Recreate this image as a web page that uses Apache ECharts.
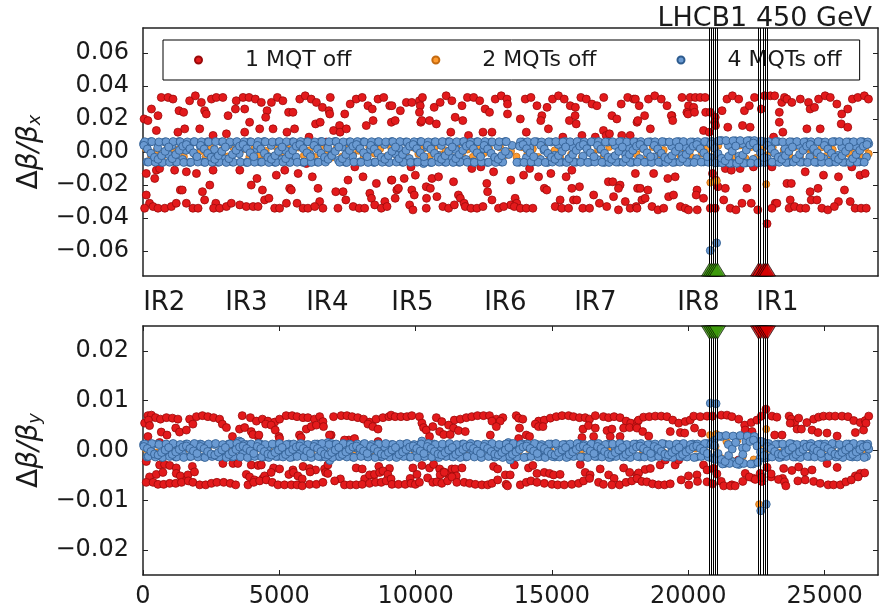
<!DOCTYPE html>
<html>
<head>
<meta charset="utf-8">
<script src="https://cdn.jsdelivr.net/npm/echarts@6/dist/echarts.min.js"></script>
<style>
html, body { margin: 0; padding: 0; background: #fff; }
#chart { width: 879px; height: 613px; }
</style>
</head>
<body>
<div id="chart"></div>
<script>
// longitudinal position s [m] and beta beat
// top panel: horizontal (dbx), bottom panel: vertical (dby)

var mqt1_bx = [
  [670,.033],[920,.033],[1100,.032],[1710,.031],[1920,.034],[2140,.030],[2510,.032],[2690,.033],[2930,.033],[3420,.031],[3670,.033],[3890,.033],[4120,.032],[4340,.030],[4710,.030],[4930,.033],[5130,.031],[5750,.032],[5950,.034],[6170,.032],[6360,.030],[6580,.027],[6870,.033],[7400,.023],[7600,.029],[7820,.032],[8040,.033],[8250,.028],[8410,.026],[8620,.032],[8830,.033],[9050,.028],
  [310,.026],[550,.022],[1320,.025],[1490,.024],[2260,.025],[2320,.023],[3120,.022],[3390,.026],[3730,.026],[4550,.025],[4500,.021],[5340,.024],[5500,.024],[6820,.025],[6850,.023],[8440,.019],[9110,.018],
  [40,.020],[180,.019],[490,.013],[1280,.012],[1530,.014],[2080,.014],[2570,.010],[3060,.011],[3730,.012],[3910,.018],[4280,.014],[4770,.014],[5280,.012],[5560,.014],[6090,.009],[6330,.017],[6500,.018],[6720,.006],[6990,.013],[7210,.016],[7230,.012],[7460,.014],[8190,.016],
  [120,-.013],[430,-.016],[490,-.011],[610,-.010],[1160,-.011],[1590,-.012],[1960,-.013],[2570,-.011],[3550,-.011],[4180,-.016],[4890,-.014],[5200,-.011],[5690,-.013],[5990,-.007],[6210,-.015],[7520,-.017],[7770,-.009],[8070,-.015],[8560,-.019],[9110,-.017],
  [120,-.026],[240,-.031],[1370,-.023],[1440,-.023],[2180,-.024],[2260,-.029],[2450,-.020],[2670,-.031],[3970,-.020],[4380,-.023],[4460,-.029],[4620,-.028],[5380,-.022],[5440,-.023],[5650,-.031],[6420,-.022],[6480,-.030],[7070,-.024],[7340,-.024],[7440,-.029],[8320,-.025],[8380,-.028],[8870,-.030],
  [60,-.034],[370,-.033],[550,-.034],[800,-.034],[1040,-.033],[1220,-.031],[1590,-.031],[1830,-.034],[2020,-.034],[2590,-.034],[2810,-.034],[3060,-.033],[3240,-.031],[3550,-.032],[3790,-.033],[4040,-.033],[4220,-.033],[4830,-.034],[5010,-.034],[5260,-.031],[5870,-.034],[6050,-.034],[6300,-.033],[6600,-.034],[7150,-.034],[7710,-.033],[7930,-.034],[8130,-.034],[8500,-.032],[8740,-.034],[8950,-.033],
  [9130,.028],[9660,.030],[9860,.030],[10140,.031],[10250,.033],[10170,.028],[10680,.027],[10900,.030],[11120,.034],[11330,.031],[11700,.028],[11900,.033],[12130,.033],[12350,.031],[12920,.032],[13140,.034],[13350,.032],[13370,.029],[14020,.032],[14230,.033],[14450,.028],[14820,.027],[15020,.032],[15240,.034],[15450,.032],[15670,.028],[15860,.027],[16060,.033],[16260,.032],[16470,.029],[16650,.028],[16900,.033],[17540,.029],[17780,.033],[18000,.032],
  [9250,.019],[9440,.025],[10140,.024],[10190,.018],[10230,.019],[10510,.019],[10760,.017],[11290,.012],[11450,.021],[11730,.019],[11940,.010],[12470,.012],[12550,.026],[12710,.024],[12800,.012],[13370,.023],[13840,.020],[14060,.012],[14630,.022],[14590,.019],[14870,.014],[15400,.009],[15640,.019],[15850,.022],[15890,.017],[16100,.010],[16590,.009],[16890,.013],[16990,.010],[17110,.011],[17200,.022],[17380,.020],[17560,.010],[17870,.010],[18120,.018],
  [9130,-.017],[9580,-.016],[9830,-.009],[9990,-.014],[10600,-.016],[10840,-.015],[11390,-.018],[12060,-.010],[12390,-.009],[12610,-.019],[12860,-.012],[13490,-.017],[13960,-.014],[14180,-.010],[14510,-.015],[14960,-.013],[15520,-.015],[15730,-.011],[16010,-.021],[17070,-.018],[17230,-.018],[17500,-.020],
  [9310,-.023],[9370,-.022],[9860,-.023],[9950,-.026],[10390,-.021],[10400,-.028],[10540,-.022],[10780,-.027],[11570,-.026],[11640,-.028],[11780,-.031],[12640,-.024],[12800,-.029],[13490,-.032],[13650,-.028],[13710,-.031],[14720,-.022],[14810,-.023],[15300,-.029],[15730,-.022],[15790,-.029],[15910,-.029],[16530,-.026],[16740,-.031],[17260,-.027],[17440,-.022],[17690,-.030],[18140,-.022],
  [9250,-.028],[9780,-.032],[9900,-.035],[10390,-.034],[11000,-.033],[11210,-.034],[11420,-.032],[11820,-.033],[12030,-.034],[12250,-.034],[12470,-.033],[13040,-.034],[13230,-.033],[13620,-.033],[13840,-.034],[14060,-.034],[14300,-.034],[15120,-.033],[15360,-.034],[15610,-.034],[16130,-.034],[16380,-.034],[17010,-.033],[17440,-.035],[17870,-.034],[18090,-.033],
  [18060,.032],[18200,.028],[18540,.032],[18770,.034],[19010,.032],[19220,.028],[19400,.022],[19770,.033],[20010,.028],[20070,.033],[20200,.027],[20260,.033],[20440,.033],[20620,.033],[20640,.024],[20810,.024],[20990,.021],[21240,.025],[21420,.032],[21620,.034],[21850,.032],[22060,.025],[22240,.028],[22430,.033],[22680,.026],[22800,.034],[23010,.034],[23170,.034],[23340,.024],[23430,.030],[23530,.033],[23620,.032],[23800,.030],[24110,.032],[24410,.030],[24470,.026],[24630,.027],[24780,.032],[25020,.034],[25210,.033],[25450,.029],[25630,.023],[25850,.026],[26020,.032],[26220,.033],[26460,.034],[26610,.032],
  [18150,.019],[18400,.022],[18610,.014],[19380,.022],[19430,.019],[19950,.024],[19990,.023],[20230,.024],[20560,.013],[20770,.012],[20970,.018],[21000,.016],[21450,.015],[21990,.016],[22270,.015],[23130,.009],[23340,.018],[23470,.012],[24350,.014],[24840,.014],[25610,.017],[25850,.015],
  [18060,-.013],[18730,-.013],[19250,-.016],[19520,-.015],[20890,-.013],[21010,-.017],[21360,-.010],[21580,-.011],[21900,-.010],[22390,-.009],[23070,-.009],[24290,-.012],[24960,-.014],[25510,-.015],[26000,-.009],[26300,-.014],[26490,-.013],
  [18240,-.022],[18520,-.023],[19280,-.027],[19460,-.026],[20320,-.023],[20290,-.026],[21090,-.021],[21360,-.022],[22150,-.022],[23620,-.019],[23780,-.019],[24470,-.024],[24760,-.022],[25730,-.023],[18300,-.029],[18420,-.028],[20560,-.028],[21300,-.029],[21970,-.031],[22310,-.031],[23190,-.031],[23250,-.031],[23740,-.029],[24510,-.029],[24720,-.029],[25510,-.030],[25940,-.030],
  [18120,-.034],[18670,-.033],[18890,-.035],[19100,-.034],[19710,-.033],[19890,-.034],[20010,-.035],[20330,-.035],[20810,-.034],[20990,-.034],[21540,-.034],[21750,-.035],[22550,-.035],[23070,-.034],[23700,-.034],[23900,-.033],[24110,-.034],[24310,-.034],[24900,-.034],[25120,-.035],[25360,-.033],[26120,-.034],[26340,-.034],[26530,-.034],
  [22890,-.0434]
];

var mqt2_bx = [
  [100,.0020],[300,-.0025],[500,.0010],[700,-.0030],[900,.0028],[1100,-.0005],[1300,.0015],[1500,-.0028],[1700,.0030],[1900,-.0015],
  [2100,.0005],[2300,-.0030],[2500,.0025],[2700,-.0020],[2900,.0012],[3100,-.0027],[3300,.0030],[3500,-.0008],[3700,.0018],[3900,-.0030],
  [4100,.0026],[4300,-.0018],[4500,.0008],[4700,-.0029],[4900,.0030],[5100,-.0012],[5300,.0020],[5500,-.0028],[5700,.0027],[5900,-.0022],
  [6100,.0010],[6300,-.0030],[6500,.0029],[6700,-.0015],[6900,-.0035],[7100,.0022],[7300,-.0028],[7500,.0025],[7700,-.0018],[7900,.0008],
  [8100,-.0030],[8300,.0030],[8500,-.0010],[8700,.0018],[8900,-.0029],[9100,.0027],[9300,-.0020],[9500,.0005],[9700,-.0030],[9900,.0028],
  [10100,-.0012],[10300,.0022],[10500,-.0028],[10700,.0030],[10900,-.0016],[11100,.0010],[11300,-.0030],[11500,.0026],[11700,-.0022],[11900,.0015],
  [12100,-.0029],[12300,.0030],[12500,-.0008],[12700,.0020],[12900,-.0030],[13100,.0027],[13300,-.0018],[13500,.0005],[13700,-.0028],[13900,.0029],
  [14100,-.0012],[14300,.0018],[14500,-.0030],[14700,.0030],[14900,-.0020],[15100,.0010],[15300,-.0029],[15500,.0026],[15700,-.0015],[15900,.0022],
  [16100,-.0030],[16300,.0028],[16500,-.0010],[16700,.0015],[16900,-.0028],[17100,.0030],[17300,-.0022],[17500,.0008],[17700,-.0030],[17900,.0027],
  [18100,-.0014],[18300,.0020],[18500,-.0029],[18700,.0030],[18900,-.0018],[19100,.0012],[19300,-.0030],[19500,.0025],[19700,-.0020],[19900,.0016],
  [20100,-.0028],[20300,.0030],[20500,-.0010],[20700,.0020],[20900,-.0032],[21100,.0038],[21300,-.0040],[21500,.0035],[21700,-.0025],[21900,.0040],
  [22100,-.0038],[22300,.0030],[22500,-.0035],[22700,.0025],[22900,-.0020],[23100,.0028],[23300,-.0030],[23500,.0012],[23700,-.0018],[23900,.0030],
  [24100,-.0027],[24300,.0020],[24500,-.0010],[24700,-.0030],[24900,.0029],[25100,-.0020],[25300,.0015],[25500,-.0028],[25700,.0030],[25900,-.0012],
  [26100,.0022],[26300,-.0030],[26500,.0026],[26620,-.0010],
  [20810,-.0185],[21050,-.0175],[22860,-.0195]
];

var mqt4_bx = [
  [20,.0050],[150,-.0060],[280,.0062],[410,-.0035],[540,.0025],[670,-.0062],[800,.0061],[930,-.0015],
  [1060,.0040],[1190,-.0060],[1320,.0063],[1450,-.0045],[1580,.0010],[1710,-.0063],[1840,.0060],[1970,-.0030],
  [2100,.0035],[2230,-.0061],[2360,.0062],[2490,-.0020],[2620,.0015],[2750,-.0062],[2880,.0061],[3010,-.0042],
  [3140,.0045],[3270,-.0060],[3400,.0058],[3530,-.0010],[3660,.0030],[3790,-.0063],[3920,.0062],[4050,-.0035],
  [4180,.0020],[4310,-.0061],[4440,.0063],[4570,-.0025],[4700,.0040],[4830,-.0062],[4960,.0060],[5090,-.0045],
  [5220,.0010],[5350,-.0060],[5480,.0062],[5610,-.0030],[5740,.0035],[5870,-.0063],[6000,.0061],[6130,-.0015],
  [6260,.0045],[6390,-.0061],[6520,.0063],[6650,-.0040],[6780,.0025],[6910,-.0020],[7040,.0064],[7170,-.0050],
  [7300,.0030],[7430,-.0062],[7560,.0061],[7690,-.0025],[7820,.0040],[7950,-.0060],[8080,.0062],[8210,-.0035],
  [8340,.0015],[8470,-.0063],[8600,.0060],[8730,-.0045],[8860,.0045],[8990,-.0061],[9120,.0063],[9250,-.0010],
  [9380,.0025],[9510,-.0062],[9640,.0061],[9770,-.0040],[9900,.0035],[10030,-.0060],[10160,.0062],[10290,-.0070],
  [10420,.0030],[10550,-.0063],[10680,.0060],[10810,-.0020],[10940,.0040],[11070,-.0061],[11200,.0063],[11330,-.0035],
  [11460,.0015],[11590,-.0062],[11720,.0061],[11850,-.0045],[11980,.0045],[12110,-.0060],[12240,.0062],[12370,-.0025],
  [12500,.0020],[12630,-.0063],[12760,.0060],[12890,-.0040],[13020,.0035],[13150,-.0061],[13280,.0063],[13410,-.0015],
  [13540,.0040],[13800,-.0062],[13930,.0061],[14060,-.0035],[14190,.0025],[14320,-.0060],[14450,.0062],[14580,-.0045],
  [14710,.0010],[14840,-.0063],[14970,.0060],[15100,-.0020],[15230,.0045],[15360,-.0061],[15490,.0063],[15620,-.0040],
  [15750,.0030],[15880,-.0062],[16010,.0061],[16140,-.0025],[16270,.0035],[16400,-.0060],[16530,.0062],[16660,-.0045],
  [16790,.0015],[16920,-.0063],[17050,.0060],[17180,-.0035],[17310,.0040],[17440,-.0061],[17570,.0063],[17700,-.0015],
  [17830,.0025],[17960,-.0062],[18090,.0061],[18220,-.0040],[18350,.0045],[18480,-.0060],[18610,.0062],[18740,-.0030],
  [18870,.0020],[19000,-.0063],[19130,.0060],[19260,-.0045],[19390,.0035],[19520,-.0061],[19650,.0063],[19780,-.0020],
  [19910,.0030],[20040,-.0062],[20170,.0061],[20300,-.0040],[20430,.0040],[20560,-.0060],[20690,.0062],[20820,-.0035],
  [20950,.0045],[21080,-.0065],[21210,.0070],[21340,-.0055],[21470,.0040],[21600,-.0068],[21730,.0068],[21860,-.0025],
  [21990,.0050],[22120,-.0066],[22250,.0069],[22380,-.0045],[22510,.0030],[22640,-.0064],[22770,.0062],[22900,-.0040],
  [23030,.0035],[23160,-.0061],[23290,.0063],[23420,-.0025],[23550,.0020],[23680,-.0062],[23810,.0061],[23940,-.0045],
  [24070,.0040],[24200,-.0060],[24330,.0062],[24460,-.0030],[24590,.0015],[24720,-.0063],[24850,.0060],[24980,-.0040],
  [25110,.0045],[25240,-.0061],[25370,.0063],[25500,-.0020],[25630,.0030],[25760,-.0062],[25890,.0061],[26020,-.0045],
  [26150,.0035],[26280,-.0060],[26410,.0062],[26540,-.0030],[26620,.0050],
  [20810,-.0596],[21040,-.0550]
];

var mqt4_bx_rows = [
  [65,.0062],[195,-.0061],[325,.0063],[455,-.0062],[585,.0061],[715,-.0063],[845,.0062],[975,-.0062],[1105,.0063],[1235,-.0061],
  [1365,.0062],[1495,-.0063],[1625,.0061],[1755,-.0062],[1885,.0063],[2015,-.0061],[2145,.0062],[2275,-.0063],[2405,.0061],[2535,-.0062],
  [2665,.0063],[2795,-.0061],[2925,.0062],[3055,-.0063],[3185,.0061],[3315,-.0062],[3445,.0063],[3575,-.0061],[3705,.0062],[3835,-.0063],
  [3965,.0061],[4095,-.0062],[4225,.0063],[4355,-.0061],[4485,.0062],[4615,-.0063],[4745,.0061],[4875,-.0062],[5005,.0063],[5135,-.0061],
  [5265,.0062],[5395,-.0063],[5525,.0061],[5655,-.0062],[5785,.0063],[5915,-.0061],[6045,.0062],[6175,-.0063],[6305,.0061],[6435,-.0062],
  [6565,.0063],[6695,-.0061],[6825,.0062],[7085,.0063],[7215,-.0062],[7345,.0061],[7475,-.0063],[7605,.0062],[7735,-.0061],
  [7865,.0063],[7995,-.0062],[8125,.0061],[8255,-.0063],[8385,.0062],[8515,-.0061],[8645,.0063],[8775,-.0062],[8905,.0061],[9035,-.0063],
  [9165,.0062],[9295,-.0061],[9425,.0063],[9555,-.0062],[9685,.0061],[9815,-.0063],[9945,.0062],[10075,-.0061],[10205,.0063],[10335,-.0062],
  [10465,.0061],[10595,-.0063],[10725,.0062],[10855,-.0061],[10985,.0063],[11115,-.0062],[11245,.0061],[11375,-.0063],[11505,.0062],[11635,-.0061],
  [11765,.0063],[11895,-.0062],[12025,.0061],[12155,-.0063],[12285,.0062],[12415,-.0061],[12545,.0063],[12675,-.0062],[12805,.0061],[12935,-.0063],
  [13065,.0062],[13195,-.0061],[13325,.0063],[13715,-.0062],[13845,.0061],[13975,-.0063],[14105,.0062],[14235,-.0061],
  [14365,.0063],[14495,-.0062],[14625,.0061],[14755,-.0063],[14885,.0062],[15015,-.0061],[15145,.0063],[15275,-.0062],[15405,.0061],[15535,-.0063],
  [15665,.0062],[15795,-.0061],[15925,.0063],[16055,-.0062],[16185,.0061],[16315,-.0063],[16445,.0062],[16575,-.0061],[16705,.0063],[16835,-.0062],
  [16965,.0061],[17095,-.0063],[17225,.0062],[17355,-.0061],[17485,.0063],[17615,-.0062],[17745,.0061],[17875,-.0063],[18005,.0062],[18135,-.0061],
  [18265,.0063],[18395,-.0062],[18525,.0061],[18655,-.0063],[18785,.0062],[18915,-.0061],[19045,.0063],[19175,-.0062],[19305,.0061],[19435,-.0063],
  [19565,.0062],[19695,-.0061],[19825,.0063],[19955,-.0062],[20085,.0061],[20215,-.0063],[20345,.0062],[20475,-.0061],[20605,.0063],[20735,-.0062],
  [20865,.0064],[20995,-.0066],[21125,.0068],[21255,-.0067],[21385,.0069],[21515,-.0068],[21645,.0068],[21775,-.0069],[21905,.0069],[22035,-.0068],
  [22165,.0068],[22295,-.0067],[22425,.0069],[22555,-.0066],[22685,.0065],[22815,-.0063],[22945,.0062],[23075,-.0061],[23205,.0063],[23335,-.0062],
  [23465,.0061],[23595,-.0063],[23725,.0062],[23855,-.0061],[23985,.0063],[24115,-.0062],[24245,.0061],[24375,-.0063],[24505,.0062],[24635,-.0061],
  [24765,.0063],[24895,-.0062],[25025,.0061],[25155,-.0063],[25285,.0062],[25415,-.0061],[25545,.0063],[25675,-.0062],[25805,.0061],[25935,-.0063],
  [26065,.0062],[26195,-.0061],[26325,.0063],[26455,-.0062],[26585,.0061]
];

var mqt4_bx_mid = [
  [32,.0040],[162,.0018],[292,-.0008],[422,-.0032],[552,-.0044],[682,-.0022],[812,.0004],[942,.0030],
  [1072,-.0040],[1202,-.0015],[1332,.0010],[1462,.0035],[1592,.0045],[1722,.0020],[1852,-.0005],[1982,-.0028],
  [2112,.0040],[2242,.0018],[2372,-.0008],[2502,-.0032],[2632,-.0044],[2762,-.0022],[2892,.0004],[3022,.0030],
  [3152,-.0040],[3282,-.0015],[3412,.0010],[3542,.0035],[3672,.0045],[3802,.0020],[3932,-.0005],[4062,-.0028],
  [4192,.0040],[4322,.0018],[4452,-.0008],[4582,-.0032],[4712,-.0044],[4842,-.0022],[4972,.0004],[5102,.0030],
  [5232,-.0040],[5362,-.0015],[5492,.0010],[5622,.0035],[5752,.0045],[5882,.0020],[6012,-.0005],[6142,-.0028],
  [6272,.0040],[6402,.0018],[6532,-.0008],[6662,-.0032],[6792,-.0044],[6922,-.0022],[7052,.0004],[7182,.0030],
  [7312,-.0040],[7442,-.0015],[7572,.0010],[7702,.0035],[7832,.0045],[7962,.0020],[8092,-.0005],[8222,-.0028],
  [8352,.0040],[8482,.0018],[8612,-.0008],[8742,-.0032],[8872,-.0044],[9002,-.0022],[9132,.0004],[9262,.0030],
  [9392,-.0040],[9522,-.0015],[9652,.0010],[9782,.0035],[9912,.0045],[10042,.0020],[10172,-.0005],[10302,-.0028],
  [10432,.0040],[10562,.0018],[10692,-.0008],[10822,-.0032],[10952,-.0044],[11082,-.0022],[11212,.0004],[11342,.0030],
  [11472,-.0040],[11602,-.0015],[11732,.0010],[11862,.0035],[11992,.0045],[12122,.0020],[12252,-.0005],[12382,-.0028],
  [12512,.0040],[12642,.0018],[12772,-.0008],[12902,-.0032],[13032,-.0044],[13162,-.0022],[13292,.0004],
  [13812,.0035],[13942,.0045],[14072,.0020],[14202,-.0005],[14332,-.0028],
  [14592,.0040],[14722,.0018],[14852,-.0008],[14982,-.0032],[15112,-.0044],[15242,-.0022],[15372,.0004],[15502,.0030],
  [15632,-.0040],[15762,-.0015],[15892,.0010],[16022,.0035],[16152,.0045],[16282,.0020],[16412,-.0005],[16542,-.0028],
  [16672,.0040],[16802,.0018],[16932,-.0008],[17062,-.0032],[17192,-.0044],[17322,-.0022],[17452,.0004],[17582,.0030],
  [17712,-.0040],[17842,-.0015],[17972,.0010],[18102,.0035],[18232,.0045],[18362,.0020],[18492,-.0005],[18622,-.0028],
  [18752,.0040],[18882,.0018],[19012,-.0008],[19142,-.0032],[19272,-.0044],[19402,-.0022],[19532,.0004],[19662,.0030],
  [19792,-.0040],[19922,-.0015],[20052,.0010],[20182,.0035],[20312,.0045],[20442,.0020],[20572,-.0005],[20702,-.0028],
  [20832,.0048],[20962,.0022],[21092,-.0010],[21222,-.0038],[21352,-.0053],[21482,-.0026],[21612,.0005],[21742,.0036],
  [21872,-.0048],[22002,-.0018],[22132,.0012],[22262,.0042],[22392,.0054],[22522,.0024],[22652,-.0006],[22782,-.0034],
  [22912,.0040],[23042,.0018],[23172,-.0008],[23302,-.0032],[23432,-.0044],[23562,-.0022],[23692,.0004],[23822,.0030],
  [23952,-.0040],[24082,-.0015],[24212,.0010],[24342,.0035],[24472,.0045],[24602,.0020],[24732,-.0005],[24862,-.0028],
  [24992,.0040],[25122,.0018],[25252,-.0008],[25382,-.0032],[25512,-.0044],[25642,-.0022],[25772,.0004],[25902,.0030],
  [26032,-.0040],[26162,-.0015],[26292,.0010],[26422,.0035],[26552,.0045]
];

var mqt1_by = [
  [180,.0070],[310,.0071],[460,.0066],[640,.0063],[860,.0066],[1080,.0065],[1280,.0063],[1710,.0063],[1960,.0068],[2180,.0070],[2380,.0068],[2590,.0066],[2810,.0063],[3640,.0070],[3940,.0066],[4160,.0059],[4380,.0063],[4580,.0059],[4830,.0057],[5010,.0063],[5250,.0070],[5470,.0070],[5650,.0068],[5870,.0066],[6050,.0066],[6290,.0063],[6480,.0068],[6990,.0068],[7270,.0070],[7480,.0070],[7670,.0068],[7880,.0066],[8090,.0063],[8310,.0057],[8550,.0063],[8800,.0066],[9020,.0068],
  [60,.0055],[200,.0061],[240,.0050],[670,.0037],[880,.0031],[1200,.0045],[1340,.0037],[1590,.0041],[1830,.0053],[2910,.0053],[3060,.0046],[3540,.0043],[3730,.0046],[3970,.0038],[4220,.0028],[4500,.0053],[4700,.0051],[4850,.0041],[4990,.0028],[5740,.0031],[5990,.0043],[6170,.0048],[6360,.0051],[6600,.0058],[6620,.0048],[6900,.0031],[7550,.0021],[7760,.0024],[8250,.0053],[8430,.0048],[8620,.0043],[9100,.0071],
  [180,.0028],[610,.0016],[3280,.0028],[4030,.0032],[4250,.0031],[5010,.0024],[5800,.0026],[6840,.0031],[7390,.0021],[8620,.0018],
  [120,-.0022],[610,-.0029],[790,-.0028],[980,-.0030],[1220,-.0035],[1810,-.0032],[2930,-.0026],[3300,-.0026],[3480,-.0026],[3970,-.0029],[4220,-.0030],[4340,-.0029],[4790,-.0035],[5010,-.0037],[5500,-.0039],[5870,-.0032],[6110,-.0036],[6330,-.0039],[6660,-.0037],[6780,-.0029],[6700,-.0044],[7240,-.0057],[7820,-.0035],[8040,-.0037],[8430,-.0049],[8650,-.0032],[9040,-.0036],
  [240,-.0053],[490,-.0048],[730,-.0044],[1220,-.0046],[1370,-.0051],[1590,-.0059],[1650,-.0049],[1890,-.0043],[3790,-.0048],[3910,-.0053],[4090,-.0059],[4400,-.0056],[4460,-.0051],[4700,-.0044],[5350,-.0048],[5520,-.0044],[5680,-.0051],[5840,-.0057],[6130,-.0043],[6780,-.0046],[8130,-.0057],[8310,-.0049],[8490,-.0048],[8680,-.0044],[8800,-.0041],[8980,-.0048],
  [120,-.0064],[370,-.0064],[550,-.0068],[760,-.0068],[980,-.0066],[1200,-.0066],[1410,-.0064],[1660,-.0061],[1830,-.0064],[2080,-.0069],[2300,-.0069],[2510,-.0066],[2710,-.0064],[2960,-.0064],[3200,-.0066],[3400,-.0069],[3850,-.0069],[4060,-.0064],[4280,-.0061],[4520,-.0059],[4740,-.0064],[4950,-.0069],[5190,-.0069],[5440,-.0069],[5650,-.0069],[5840,-.0071],[6110,-.0068],[6360,-.0068],[6600,-.0064],[7030,-.0061],[7390,-.0069],[7600,-.0069],[7820,-.0069],[8040,-.0068],[8310,-.0066],[8530,-.0064],[8740,-.0064],[8920,-.0061],[9100,-.0057],
  [9250,.0068],[9460,.0068],[9680,.0068],[9860,.0070],[10140,.0068],[10760,.0066],[10960,.0058],[11420,.0061],[11640,.0063],[11860,.0066],[12060,.0068],[12270,.0070],[12490,.0070],[12710,.0070],[12960,.0063],[13200,.0066],[13690,.0070],[13780,.0065],[13930,.0063],[14510,.0059],[14720,.0061],[14940,.0065],[15160,.0068],[15370,.0070],[15610,.0070],[15790,.0068],[16010,.0066],[16220,.0066],[16380,.0063],[16590,.0070],[16890,.0068],[17080,.0066],[17280,.0068],[17500,.0066],[17720,.0059],[17890,.0055],[18140,.0058],
  [10230,.0055],[10290,.0046],[10390,.0041],[10630,.0048],[11210,.0051],[11390,.0045],[11570,.0040],[11820,.0038],[12800,.0059],[13100,.0059],[12960,.0048],[13810,.0045],[14060,.0031],[14180,.0028],[14390,.0053],[14510,.0048],[14670,.0048],[16140,.0043],[16340,.0050],[16590,.0045],[17020,.0040],[17200,.0043],[17630,.0045],[17850,.0046],[18090,.0048],
  [10510,.0028],[10880,.0038],[11030,.0032],[11270,.0032],[12740,.0031],[13780,.0024],[16100,.0026],[16530,.0028],[17140,.0028],[17500,.0028],
  [9900,-.0035],[10230,-.0030],[10510,-.0035],[10660,-.0028],[10880,-.0037],[11030,-.0043],[11170,-.0046],[11330,-.0037],[11450,-.0037],[11700,-.0035],[12860,-.0032],[13010,-.0037],[13290,-.0049],[13470,-.0049],[13620,-.0029],[14140,-.0035],[14300,-.0030],[14450,-.0046],[14720,-.0044],[14910,-.0046],[15060,-.0049],[15300,-.0048],[16040,-.0028],[16220,-.0044],[16400,-.0049],[16770,-.0037],[17080,-.0049],[17280,-.0056],[17630,-.0035],[17850,-.0044],[18120,-.0049],
  [9800,-.0056],[10050,-.0048],[10900,-.0049],[11050,-.0044],[11490,-.0051],
  [9130,-.0068],[9370,-.0068],[9620,-.0068],[9830,-.0066],[9990,-.0068],[10140,-.0064],[10440,-.0055],[10630,-.0064],[10780,-.0063],[10960,-.0066],[11170,-.0061],[11330,-.0053],[11510,-.0064],[11780,-.0064],[11980,-.0066],[12190,-.0068],[12430,-.0069],[12640,-.0069],[12800,-.0066],[13010,-.0059],[13320,-.0068],[13370,-.0071],[13840,-.0069],[14060,-.0064],[14230,-.0061],[14450,-.0064],[14720,-.0066],[15000,-.0068],[15210,-.0069],[15450,-.0069],[15730,-.0068],[15980,-.0066],[16160,-.0061],[16380,-.0056],[16710,-.0064],[16890,-.0068],[17200,-.0069],[17480,-.0069],[17720,-.0064],[17930,-.0061],[18140,-.0056],
  [18180,.0061],[18360,.0067],[18570,.0068],[18790,.0069],[19010,.0069],[19220,.0068],[19430,.0061],[19650,.0055],[19890,.0058],[20070,.0061],[20200,.0069],[20440,.0068],[20690,.0069],[20890,.0069],[21210,.0071],[21420,.0071],[21600,.0068],[21850,.0063],[22070,.0051],[22310,.0056],[22520,.0061],[22680,.0069],[23070,.0069],[23250,.0067],[23700,.0069],[23780,.0063],[23900,.0055],[24050,.0065],[24350,.0056],[24600,.0063],[24780,.0067],[24960,.0069],[25180,.0069],[25390,.0069],[25640,.0069],[25860,.0068],[26070,.0060],[26310,.0056],[26490,.0060],[26620,.0069],
  [18120,.0045],[18330,.0038],[18550,.0029],[19340,.0038],[19710,.0036],[19870,.0035],[20230,.0045],[20500,.0035],[22090,.0041],[22340,.0038],[23170,.0031],[23440,.0031],[23740,.0055],[23990,.0043],[24150,.0043],[24540,.0041],[24760,.0036],[25090,.0035],[25460,.0029],[26130,.0036],[26430,.0041],[26520,.0055],
  [18180,-.0045],[18420,-.0038],[18610,-.0036],[18970,-.0029],[19160,-.0019],[19520,-.0029],[19650,-.0019],[20010,-.0051],[20320,-.0049],[20340,-.0062],[20560,-.0029],[20690,-.0039],[20930,-.0036],[21050,-.0047],[21210,-.0062],[21600,-.0069],[21850,-.0019],[22090,-.0046],[22400,-.0056],[22640,-.0046],[22700,-.0062],[22890,-.0034],[23040,-.0053],[23500,-.0036],[23460,-.0056],[23800,-.0040],[24050,-.0033],[24270,-.0043],[24540,-.0039],[25090,-.0026],[25460,-.0034],[26130,-.0051],[26310,-.0046],[26470,-.0045],
  [18120,-.0056],[18300,-.0062],[18480,-.0063],[18690,-.0067],[18910,-.0069],[19130,-.0069],[19340,-.0067],[19740,-.0059],[20020,-.0069],[20690,-.0063],[20890,-.0067],[21300,-.0071],[21540,-.0071],[21720,-.0071],[22000,-.0062],[22240,-.0053],[22460,-.0058],[22700,-.0054],[23040,-.0047],[23310,-.0058],[23530,-.0063],[23580,-.0071],[24020,-.0061],[24290,-.0059],[24600,-.0062],[24840,-.0066],[25130,-.0069],[25330,-.0069],[25580,-.0069],[25780,-.0063],[25980,-.0059],[26230,-.0053],
  [22850,.0083]
];

var mqt2_by = [
  [100,.0003],[480,-.0004],[860,.0002],[1240,-.0003],[1620,.0004],[2000,-.0002],[2380,.0003],[2760,-.0004],[3140,.0002],[3520,.0008],
  [3900,-.0003],[4280,.0004],[4660,-.0002],[5040,.0003],[5420,-.0004],[5800,.0002],[6180,-.0003],[6560,.0004],[6860,-.0010],[7320,.0003],
  [7700,-.0004],[8080,.0002],[8460,-.0003],[8840,.0004],[9220,-.0002],[9600,.0003],[9980,-.0004],[10250,.0008],[10740,-.0003],[11120,.0004],
  [11500,-.0002],[11880,.0003],[12260,-.0004],[12640,.0002],[13020,-.0003],[13420,.0008],[13780,-.0002],[14160,.0003],[14540,-.0004],[14920,.0002],
  [15300,-.0003],[15680,.0004],[16060,-.0002],[16440,.0003],[16820,-.0004],[17200,.0002],[17580,-.0003],[17960,.0004],[18340,-.0002],[18720,.0003],
  [19100,-.0004],[19480,.0002],[19860,-.0003],[20240,.0004],[20620,-.0002],[21000,.0008],[21200,-.0015],[21400,.0018],[21600,-.0020],[21800,.0020],
  [22000,-.0012],[22200,.0019],[22400,-.0018],[22600,.0010],[22780,-.0006],[23000,.0003],[23380,-.0004],[23760,.0002],[24140,-.0003],[24520,.0004],
  [24900,-.0002],[25280,.0003],[25660,-.0004],[26040,.0002],[26420,-.0003],[26620,.0004],
  [20800,.0031],[21030,.0033],[22860,.0043],[22600,-.0108]
];

var mqt4_by = [
  [20,.0012],[150,-.0013],[280,.0006],[410,-.0008],[540,.0013],[670,-.0012],[800,-.0002],[930,.0009],
  [1060,.0012],[1190,-.0013],[1320,.0004],[1450,-.0006],[1580,.0013],[1710,-.0012],[1840,.0001],[1970,.0008],
  [2100,.0013],[2230,-.0013],[2360,.0007],[2490,-.0009],[2620,.0012],[2750,-.0012],[2880,-.0003],[3010,.0010],
  [3140,.0013],[3270,-.0013],[3400,.0005],[3530,.0019],[3600,.0017],[3660,-.0006],[3790,.0012],[3920,-.0012],
  [4050,.0002],[4180,.0009],[4310,.0013],[4440,-.0013],[4570,.0006],[4700,-.0008],[4830,.0012],[4960,-.0012],
  [5090,-.0001],[5220,.0009],[5350,.0013],[5480,-.0013],[5610,.0004],[5740,-.0007],[5870,.0012],[6000,-.0012],
  [6130,.0002],[6260,.0008],[6390,.0013],[6520,-.0013],[6650,.0006],[6780,.0016],[6850,-.0020],[6910,.0014],
  [7040,.0012],[7170,-.0012],[7300,-.0002],[7430,.0009],[7560,.0013],[7690,-.0013],[7820,.0005],[7950,-.0008],
  [8080,.0012],[8210,-.0012],[8340,.0001],[8470,.0009],[8600,.0013],[8730,-.0013],[8860,.0007],[8990,-.0008],
  [9120,.0012],[9250,-.0012],[9380,-.0002],[9510,.0009],[9640,.0013],[9770,-.0013],[9900,.0005],[10030,-.0007],
  [10160,.0012],[10230,.0019],[10290,-.0012],[10420,.0002],[10550,.0009],[10680,.0013],[10810,-.0013],[10940,.0006],
  [11070,-.0008],[11200,.0012],[11330,-.0012],[11460,-.0001],[11590,.0008],[11720,.0013],[11850,-.0013],[11980,.0004],
  [12110,-.0007],[12240,.0012],[12370,-.0012],[12500,.0002],[12630,.0009],[12760,.0013],[12890,-.0013],[13020,.0006],
  [13150,-.0008],[13280,.0012],[13400,.0016],[13470,-.0019],[13540,.0013],[13670,-.0002],[13800,.0009],[13930,.0013],
  [14060,-.0013],[14190,.0005],[14320,-.0008],[14450,.0012],[14580,-.0012],[14710,.0001],[14840,.0009],[14970,.0013],
  [15100,-.0013],[15230,.0007],[15360,-.0008],[15490,.0012],[15620,-.0012],[15750,-.0002],[15880,.0009],[16010,.0013],
  [16140,-.0013],[16270,.0005],[16400,-.0007],[16530,.0012],[16660,-.0012],[16790,.0002],[16920,.0008],[17050,.0013],
  [17180,-.0013],[17310,.0006],[17440,-.0008],[17570,.0012],[17700,-.0012],[17830,-.0001],[17960,.0009],[18090,.0013],
  [18220,-.0013],[18350,.0004],[18480,-.0007],[18610,.0012],[18740,-.0012],[18870,.0002],[19000,.0009],[19130,.0013],
  [19260,-.0013],[19390,.0006],[19520,-.0008],[19650,.0012],[19780,-.0012],[19910,.0001],[20040,.0009],[20170,.0013],
  [20300,-.0013],[20430,.0006],[20560,-.0009],[20690,.0014],[20820,-.0014],[20950,.0020],[21080,-.0010],[21210,.0028],
  [21340,-.0026],[21470,.0012],[21600,-.0022],[21730,.0027],[21860,-.0028],[21990,.0005],[22120,.0018],[22250,.0026],
  [22380,-.0027],[22510,.0020],[22640,-.0015],[22770,.0016],[22900,-.0014],[23030,.0005],[23160,-.0008],[23290,.0013],
  [23420,-.0013],[23550,.0002],[23680,.0009],[23810,.0013],[23940,-.0013],[24070,.0006],[24200,-.0008],[24330,.0012],
  [24460,-.0012],[24590,-.0002],[24720,.0009],[24850,.0013],[24980,-.0013],[25110,.0005],[25240,-.0007],[25370,.0012],
  [25500,-.0012],[25630,.0001],[25760,.0009],[25890,.0013],[26020,-.0013],[26150,.0006],[26280,-.0008],[26410,.0012],
  [26540,-.0012],[26620,.0003],
  [20810,.0095],[21020,.0094],[22660,-.0121],[22860,-.0108]
];

var mqt4_by_rows = [
  [65,.0013],[195,-.0012],[325,.0014],[455,-.0013],[585,.0012],[715,-.0014],[845,.0013],[975,-.0012],[1105,.0014],[1235,-.0013],
  [1365,.0012],[1495,-.0014],[1625,.0013],[1755,-.0012],[1885,.0014],[2015,-.0013],[2145,.0012],[2275,-.0014],[2405,.0013],[2535,-.0012],
  [2665,.0014],[2795,-.0013],[2925,.0012],[3055,-.0014],[3185,.0013],[3315,-.0012],[3445,.0014],[3575,-.0013],[3705,.0012],[3835,-.0014],
  [3965,.0013],[4095,-.0012],[4225,.0014],[4355,-.0013],[4485,.0012],[4615,-.0014],[4745,.0013],[4875,-.0012],[5005,.0014],[5135,-.0013],
  [5265,.0012],[5395,-.0014],[5525,.0013],[5655,-.0012],[5785,.0014],[5915,-.0013],[6045,.0012],[6175,-.0014],[6305,.0013],[6435,-.0012],
  [6565,.0014],[6695,-.0013],[6825,.0012],[6955,-.0014],[7085,.0013],[7215,-.0012],[7345,.0014],[7475,-.0013],[7605,.0012],[7735,-.0014],
  [7865,.0013],[7995,-.0012],[8125,.0014],[8255,-.0013],[8385,.0012],[8515,-.0014],[8645,.0013],[8775,-.0012],[8905,.0014],[9035,-.0013],
  [9165,.0012],[9295,-.0014],[9425,.0013],[9555,-.0012],[9685,.0014],[9815,-.0013],[9945,.0012],[10075,-.0014],[10205,.0013],[10335,-.0012],
  [10465,.0014],[10595,-.0013],[10725,.0012],[10855,-.0014],[10985,.0013],[11115,-.0012],[11245,.0014],[11375,-.0013],[11505,.0012],[11635,-.0014],
  [11765,.0013],[11895,-.0012],[12025,.0014],[12155,-.0013],[12285,.0012],[12415,-.0014],[12545,.0013],[12675,-.0012],[12805,.0014],[12935,-.0013],
  [13065,.0012],[13195,-.0014],[13325,.0013],[13455,-.0012],[13585,.0014],[13715,-.0013],[13845,.0012],[13975,-.0014],[14105,.0013],[14235,-.0012],
  [14365,.0014],[14495,-.0013],[14625,.0012],[14755,-.0014],[14885,.0013],[15015,-.0012],[15145,.0014],[15275,-.0013],[15405,.0012],[15535,-.0014],
  [15665,.0013],[15795,-.0012],[15925,.0014],[16055,-.0013],[16185,.0012],[16315,-.0014],[16445,.0013],[16575,-.0012],[16705,.0014],[16835,-.0013],
  [16965,.0012],[17095,-.0014],[17225,.0013],[17355,-.0012],[17485,.0014],[17615,-.0013],[17745,.0012],[17875,-.0014],[18005,.0013],[18135,-.0012],
  [18265,.0014],[18395,-.0013],[18525,.0012],[18655,-.0014],[18785,.0013],[18915,-.0012],[19045,.0014],[19175,-.0013],[19305,.0012],[19435,-.0014],
  [19565,.0013],[19695,-.0012],[19825,.0014],[19955,-.0013],[20085,.0012],[20215,-.0014],[20345,.0013],[20475,-.0012],[20605,.0014],[20735,-.0013],
  [20865,.0016],[20995,-.0018],[21125,.0029],[21255,-.0027],[21385,.0030],[21515,-.0026],[21645,.0029],[21775,-.0027],[21905,.0030],[22035,-.0026],
  [22165,.0029],[22295,-.0027],[22425,.0028],[22555,-.0024],[22685,.0018],[22815,-.0015],[22945,.0014],[23075,-.0013],[23205,.0012],[23335,-.0014],
  [23465,.0013],[23595,-.0012],[23725,.0014],[23855,-.0013],[23985,.0012],[24115,-.0014],[24245,.0013],[24375,-.0012],[24505,.0014],[24635,-.0013],
  [24765,.0012],[24895,-.0014],[25025,.0013],[25155,-.0012],[25285,.0014],[25415,-.0013],[25545,.0012],[25675,-.0014],[25805,.0013],[25935,-.0012],
  [26065,.0014],[26195,-.0013],[26325,.0012],[26455,-.0014],[26585,.0013]
];

var mqt4_by_mid = [
  [32,.0008],[162,.0004],[292,-.0002],[422,-.0007],[552,-.0009],[682,-.0004],[812,.0001],[942,.0006],
  [1072,-.0008],[1202,-.0003],[1332,.0002],[1462,.0007],[1592,.0009],[1722,.0004],[1852,-.0001],[1982,-.0006],
  [2112,.0008],[2242,.0004],[2372,-.0002],[2502,-.0007],[2632,-.0009],[2762,-.0004],[2892,.0001],[3022,.0006],
  [3152,-.0008],[3282,-.0003],[3412,.0002],[3542,.0007],[3672,.0009],[3802,.0004],[3932,-.0001],[4062,-.0006],
  [4192,.0008],[4322,.0004],[4452,-.0002],[4582,-.0007],[4712,-.0009],[4842,-.0004],[4972,.0001],[5102,.0006],
  [5232,-.0008],[5362,-.0003],[5492,.0002],[5622,.0007],[5752,.0009],[5882,.0004],[6012,-.0001],[6142,-.0006],
  [6272,.0008],[6402,.0004],[6532,-.0002],[6662,-.0007],[6792,-.0009],[6922,-.0004],[7052,.0001],[7182,.0006],
  [7312,-.0008],[7442,-.0003],[7572,.0002],[7702,.0007],[7832,.0009],[7962,.0004],[8092,-.0001],[8222,-.0006],
  [8352,.0008],[8482,.0004],[8612,-.0002],[8742,-.0007],[8872,-.0009],[9002,-.0004],[9132,.0001],[9262,.0006],
  [9392,-.0008],[9522,-.0003],[9652,.0002],[9782,.0007],[9912,.0009],[10042,.0004],[10172,-.0001],[10302,-.0006],
  [10432,.0008],[10562,.0004],[10692,-.0002],[10822,-.0007],[10952,-.0009],[11082,-.0004],[11212,.0001],[11342,.0006],
  [11472,-.0008],[11602,-.0003],[11732,.0002],[11862,.0007],[11992,.0009],[12122,.0004],[12252,-.0001],[12382,-.0006],
  [12512,.0008],[12642,.0004],[12772,-.0002],[12902,-.0007],[13032,-.0009],[13162,-.0004],[13292,.0001],[13422,.0006],
  [13552,-.0008],[13682,-.0003],[13812,.0002],[13942,.0007],[14072,.0009],[14202,.0004],[14332,-.0001],[14462,-.0006],
  [14592,.0008],[14722,.0004],[14852,-.0002],[14982,-.0007],[15112,-.0009],[15242,-.0004],[15372,.0001],[15502,.0006],
  [15632,-.0008],[15762,-.0003],[15892,.0002],[16022,.0007],[16152,.0009],[16282,.0004],[16412,-.0001],[16542,-.0006],
  [16672,.0008],[16802,.0004],[16932,-.0002],[17062,-.0007],[17192,-.0009],[17322,-.0004],[17452,.0001],[17582,.0006],
  [17712,-.0008],[17842,-.0003],[17972,.0002],[18102,.0007],[18232,.0009],[18362,.0004],[18492,-.0001],[18622,-.0006],
  [18752,.0008],[18882,.0004],[19012,-.0002],[19142,-.0007],[19272,-.0009],[19402,-.0004],[19532,.0001],[19662,.0006],
  [19792,-.0008],[19922,-.0003],[20052,.0002],[20182,.0007],[20312,.0009],[20442,.0004],[20572,-.0001],[20702,-.0006],
  [20832,.0012],[20962,.0010],[21092,-.0006],[21222,-.0018],[21352,-.0022],[21482,-.0010],[21612,.0003],[21742,.0016],
  [21872,-.0020],[22002,-.0008],[22132,.0006],[22262,.0018],[22392,.0021],[22522,.0009],[22652,-.0003],[22782,-.0010],
  [22912,.0008],[23042,.0004],[23172,-.0002],[23302,-.0007],[23432,-.0009],[23562,-.0004],[23692,.0001],[23822,.0006],
  [23952,-.0008],[24082,-.0003],[24212,.0002],[24342,.0007],[24472,.0009],[24602,.0004],[24732,-.0001],[24862,-.0006],
  [24992,.0008],[25122,.0004],[25252,-.0002],[25382,-.0007],[25512,-.0009],[25642,-.0004],[25772,.0001],[25902,.0006],
  [26032,-.0008],[26162,-.0003],[26292,.0002],[26422,.0007],[26552,.0009]
];

// interaction regions (label position) and the element markers near IR8 / IR1
var irNames = ["IR2", "IR3", "IR4", "IR5", "IR6", "IR7", "IR8", "IR1"];
var irPos = [780, 3790, 6760, 9880, 13290, 16590, 20370, 23270];
var ir8Lines = [20780, 20853, 20927, 21000, 21073];
var ir1Lines = [22577, 22650, 22760, 22834, 22907];

var xTicks = [0, 5000, 10000, 15000, 20000, 25000];
var yTicksTop = [-0.06, -0.04, -0.02, 0, 0.02, 0.04, 0.06];
var yTicksBot = [-0.02, -0.01, 0, 0.01, 0.02];

var FONT = "DejaVu Sans";
var TXT = "#1a1a1a";
var S_MAX = 26960;

function fmtY(v) {
    return v.toFixed(2).replace("-", "\u2212");
}

function fmtS(v) {
    return String(Math.round(v));
}

function irLabel(v) {
    for (var i = 0; i < irPos.length; i++) {
        if (irPos[i] == v) return irNames[i];
    }
    return "";
}

function frameX(grid, pos) {
    return {
        type: "value", gridIndex: grid, position: pos, min: 0, max: S_MAX,
        axisLine: {show: true, onZero: false, lineStyle: {color: "#222", width: 1.5}},
        axisTick: {show: false}, axisLabel: {show: false}, splitLine: {show: false}
    };
}

function yAx(grid, pos, lo, hi, ticks, name) {
    var a = {
        type: "value", gridIndex: grid, position: pos, min: lo, max: hi,
        axisLine: {show: true, onZero: false, lineStyle: {color: "#222", width: 1.5}},
        axisTick: {show: true, inside: true, length: 5, customValues: ticks, lineStyle: {color: "#222", width: 1}},
        axisLabel: {show: pos == "left", customValues: ticks, formatter: fmtY, fontFamily: FONT, fontSize: 24, color: TXT, margin: 14},
        splitLine: {show: false}
    };
    if (name) {
        a.name = name;
        a.nameLocation = "middle";
        a.nameGap = 98;
        a.nameRotate = 90;
        a.nameTextStyle = {
            fontFamily: FONT, color: TXT,
            rich: {
                d: {fontSize: 28, fontFamily: FONT, color: TXT},
                b: {fontSize: 28, fontFamily: FONT, fontStyle: "italic", color: TXT},
                s: {fontSize: 18, fontFamily: FONT, fontStyle: "italic", color: TXT, padding: [12, 0, 0, 0]}
            }
        };
    }
    return a;
}

function dots(name, data, xi, color, border, size, z) {
    return {
        name: name, type: "scatter", xAxisIndex: xi, yAxisIndex: xi, data: data,
        symbol: "circle", symbolSize: size, z: z,
        itemStyle: {color: color, borderColor: border, borderWidth: 0.8, opacity: 1},
        emphasis: {disabled: true}
    };
}

function vlines(xi) {
    var d = [];
    var all = ir8Lines.concat(ir1Lines);
    for (var i = 0; i < all.length; i++) d.push({xAxis: all[i]});
    return {
        type: "scatter", xAxisIndex: xi, yAxisIndex: xi, data: [], silent: true, z: 8,
        markLine: {
            silent: true, symbol: ["none", "none"], animation: false,
            label: {show: false},
            lineStyle: {color: "#000", width: 1, type: "solid"},
            data: d
        }
    };
}

function tris(xs, xi, y, color, up) {
    var d = [];
    for (var i = 0; i < xs.length; i++) d.push([xs[i], y]);
    return {
        type: "scatter", xAxisIndex: xi, yAxisIndex: xi, data: d, silent: true, clip: false, z: 9,
        symbol: up ? "path://M8,0L16,13L0,13Z" : "path://M0,0L16,0L8,13Z",
        symbolSize: [16, 13], symbolOffset: [0, up ? -6.5 : 6.5],
        itemStyle: {color: color, borderColor: "#000", borderWidth: 0.8}
    };
}

var RED = "#e31a1c", RED_E = "#9a0a0a";
var ORA = "#ff9b2f", ORA_E = "#c46a10";
var BLU = "#6a9ad2", BLU_E = "#2d5b8e";

var chart = echarts.init(document.getElementById("chart"), null, {renderer: "canvas"});
var option = {
    animation: false,
    backgroundColor: "#fff",
    title: {
        text: "LHCB1 450 GeV", right: 2, top: 0,
        textStyle: {fontFamily: FONT, fontSize: 27, fontWeight: "normal", color: TXT}
    },
    legend: {
        data: ["1 MQT off", "2 MQTs off", "4 MQTs off"],
        left: 163, top: 40, orient: "horizontal",
        padding: [9, 18, 9, 31], itemGap: 80,
        itemWidth: 7, itemHeight: 7, icon: "circle",
        borderColor: "#000", borderWidth: 1, backgroundColor: "#fff",
        textStyle: {fontFamily: FONT, fontSize: 22, color: TXT, padding: [0, 0, 0, 38]}
    },
    grid: [
        {left: 143, top: 28, width: 735, height: 248},
        {left: 143, top: 326, width: 735, height: 249}
    ],
    xAxis: [
        frameX(0, "bottom"),
        frameX(1, "bottom"),
        frameX(0, "top"),
        frameX(1, "top")
    ],
    yAxis: [
        yAx(0, "left", -0.075, 0.075, yTicksTop, "{d|\u0394}{b|\u03b2/\u03b2}{s|x}"),
        yAx(1, "left", -0.025, 0.025, yTicksBot, "{d|\u0394}{b|\u03b2/\u03b2}{s|y}"),
        yAx(0, "right", -0.075, 0.075, yTicksTop),
        yAx(1, "right", -0.025, 0.025, yTicksBot)
    ],
    series: [
        dots("1 MQT off", mqt1_bx, 0, RED, RED_E, 8, 2),
        dots("1 MQT off", mqt1_by, 1, RED, RED_E, 8, 2),
        dots("2 MQTs off", mqt2_bx, 0, ORA, ORA_E, 7, 3),
        dots("2 MQTs off", mqt2_by, 1, ORA, ORA_E, 7, 3),
        dots("4 MQTs off", mqt4_bx.concat(mqt4_bx_rows, mqt4_bx_mid), 0, BLU, BLU_E, 8, 4),
        dots("4 MQTs off", mqt4_by.concat(mqt4_by_rows, mqt4_by_mid), 1, BLU, BLU_E, 8, 4),
        vlines(0),
        vlines(1),
        tris(ir8Lines, 0, -0.075, "#3d9a0b", true),
        tris(ir1Lines, 0, -0.075, "#d40000", true),
        tris(ir8Lines, 1, 0.025, "#3d9a0b", false),
        tris(ir1Lines, 1, 0.025, "#d40000", false)
    ]
};

// bottom panel: s labels below, IR names above, inner ticks on both edges
option.xAxis[1].axisTick = {show: true, inside: true, length: 5, customValues: xTicks, lineStyle: {color: "#222"}};
option.xAxis[1].axisLabel = {show: true, customValues: xTicks, formatter: fmtS, fontFamily: FONT, fontSize: 24, color: TXT, margin: 10};
option.xAxis[3].axisTick = {show: true, inside: true, length: 5, customValues: xTicks, lineStyle: {color: "#222"}};
option.xAxis[3].axisLabel = {show: true, customValues: irPos, formatter: irLabel, fontFamily: FONT, fontSize: 26, color: TXT, margin: 10};

chart.setOption(option);
window.addEventListener("resize", function () { chart.resize(); });
</script>
</body>
</html>
